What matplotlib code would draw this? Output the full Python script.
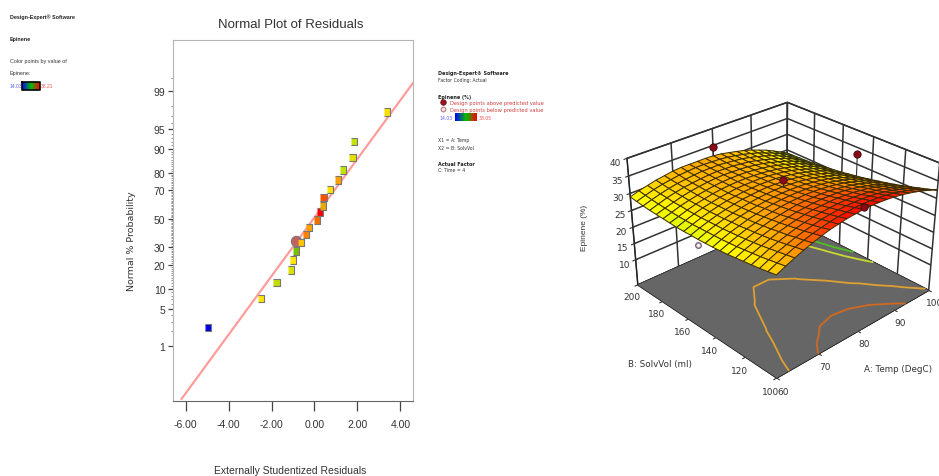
from statistics import NormalDist

import numpy as np
import matplotlib
matplotlib.use('Agg')
import matplotlib.pyplot as plt
from matplotlib.colors import LinearSegmentedColormap

W, H = 939, 477
NARROW = ['Liberation Sans', 'DejaVu Sans']

# normal plot
residuals = [-4.94, -2.47, -1.77, -1.08, -0.98, -0.84, -0.62, -0.39, -0.27, 0.13,
             0.27, 0.40, 0.42, 0.74, 1.10, 1.32, 1.77, 1.86, 3.36]
probability = [2.36, 7.27, 12.2, 17.5, 22.4, 27.8, 33.2, 38.7, 43.6, 48.9,
               54.7, 59.2, 65.1, 70.3, 76.1, 81.2, 86.8, 92.1, 97.4]
point_colors = ['#0000e0', '#ffe600', '#c4dc00', '#dce000', '#ffe800', '#78c000', '#ffc400',
                '#ff8400', '#ffa000', '#f07000', '#ff0000', '#e8a800', '#ff5000', '#ffe000',
                '#ffa000', '#c0e400', '#e4e000', '#c4e400', '#ffe000']
center_residual = -0.84
center_probability = 33.9
line_residual = [-6.19, 4.59]
line_probability = [0.05, 99.34]
prob_ticks = [1, 5, 10, 20, 30, 50, 70, 80, 90, 95, 99]
resid_ticks = [-6, -4, -2, 0, 2, 4]

# response surface, rows are SolvVol 100..200, columns are Temp 60..100
temp = [60, 62, 64, 66, 68, 70, 72, 74, 76, 78, 80, 82, 84, 86, 88, 90, 92, 94, 96, 98, 100]
solvvol = [100, 105, 110, 115, 120, 125, 130, 135, 140, 145, 150, 155, 160, 165, 170, 175, 180, 185, 190, 195, 200]
epinene = [
    [30.6, 31.7, 32.7, 33.6, 34.4, 35.1, 35.7, 36.1, 36.5, 36.7, 36.9, 36.9, 36.8, 36.6, 36.3, 35.9, 35.4, 34.8, 34.1, 33.3, 32.4],
    [30.2, 31.3, 32.3, 33.2, 33.9, 34.6, 35.1, 35.6, 35.9, 36.1, 36.3, 36.3, 36.2, 36.0, 35.7, 35.3, 34.7, 34.1, 33.4, 32.5, 31.6],
    [29.8, 30.9, 31.9, 32.7, 33.5, 34.1, 34.6, 35.1, 35.4, 35.6, 35.7, 35.7, 35.6, 35.4, 35.1, 34.6, 34.1, 33.4, 32.7, 31.8, 30.9],
    [29.5, 30.5, 31.5, 32.3, 33.0, 33.7, 34.2, 34.6, 34.9, 35.1, 35.2, 35.2, 35.0, 34.8, 34.5, 34.0, 33.5, 32.8, 32.0, 31.2, 30.2],
    [29.2, 30.2, 31.1, 31.9, 32.7, 33.3, 33.8, 34.2, 34.5, 34.6, 34.7, 34.7, 34.5, 34.3, 33.9, 33.5, 32.9, 32.2, 31.4, 30.5, 29.5],
    [28.9, 29.9, 30.8, 31.6, 32.3, 32.9, 33.4, 33.8, 34.0, 34.2, 34.3, 34.2, 34.1, 33.8, 33.4, 32.9, 32.3, 31.6, 30.8, 29.9, 28.9],
    [28.6, 29.6, 30.5, 31.3, 32.0, 32.6, 33.0, 33.4, 33.7, 33.8, 33.8, 33.8, 33.6, 33.3, 32.9, 32.4, 31.8, 31.1, 30.3, 29.4, 28.3],
    [28.4, 29.4, 30.3, 31.1, 31.7, 32.3, 32.7, 33.1, 33.3, 33.4, 33.5, 33.4, 33.2, 32.9, 32.5, 32.0, 31.3, 30.6, 29.8, 28.8, 27.8],
    [28.2, 29.2, 30.1, 30.8, 31.5, 32.0, 32.5, 32.8, 33.0, 33.1, 33.1, 33.0, 32.8, 32.5, 32.1, 31.5, 30.9, 30.2, 29.3, 28.4, 27.3],
    [28.1, 29.1, 29.9, 30.7, 31.3, 31.8, 32.2, 32.5, 32.7, 32.8, 32.8, 32.7, 32.5, 32.1, 31.7, 31.2, 30.5, 29.7, 28.9, 27.9, 26.8],
    [28.0, 29.0, 29.8, 30.5, 31.1, 31.6, 32.0, 32.3, 32.5, 32.6, 32.6, 32.4, 32.2, 31.8, 31.4, 30.8, 30.1, 29.4, 28.5, 27.5, 26.4],
    [28.0, 28.9, 29.7, 30.4, 31.0, 31.5, 31.9, 32.1, 32.3, 32.4, 32.3, 32.2, 31.9, 31.5, 31.1, 30.5, 29.8, 29.0, 28.1, 27.1, 26.0],
    [27.9, 28.8, 29.6, 30.3, 30.9, 31.4, 31.7, 32.0, 32.1, 32.2, 32.1, 32.0, 31.7, 31.3, 30.8, 30.2, 29.5, 28.7, 27.8, 26.7, 25.6],
    [27.9, 28.8, 29.6, 30.3, 30.8, 31.3, 31.6, 31.9, 32.0, 32.0, 32.0, 31.8, 31.5, 31.1, 30.6, 30.0, 29.2, 28.4, 27.5, 26.4, 25.3],
    [28.0, 28.8, 29.6, 30.3, 30.8, 31.3, 31.6, 31.8, 31.9, 31.9, 31.8, 31.6, 31.3, 30.9, 30.4, 29.8, 29.0, 28.2, 27.2, 26.2, 25.0],
    [28.1, 28.9, 29.7, 30.3, 30.8, 31.2, 31.6, 31.8, 31.9, 31.9, 31.8, 31.5, 31.2, 30.8, 30.2, 29.6, 28.8, 28.0, 27.0, 25.9, 24.7],
    [28.2, 29.0, 29.7, 30.4, 30.9, 31.3, 31.6, 31.8, 31.9, 31.8, 31.7, 31.5, 31.1, 30.7, 30.1, 29.4, 28.7, 27.8, 26.8, 25.7, 24.5],
    [28.3, 29.1, 29.9, 30.5, 31.0, 31.3, 31.6, 31.8, 31.9, 31.8, 31.7, 31.4, 31.1, 30.6, 30.0, 29.3, 28.6, 27.7, 26.7, 25.5, 24.3],
    [28.5, 29.3, 30.0, 30.6, 31.1, 31.4, 31.7, 31.9, 31.9, 31.9, 31.7, 31.4, 31.1, 30.6, 30.0, 29.3, 28.5, 27.6, 26.5, 25.4, 24.2],
    [28.7, 29.5, 30.2, 30.8, 31.2, 31.6, 31.8, 32.0, 32.0, 31.9, 31.8, 31.5, 31.1, 30.6, 30.0, 29.3, 28.4, 27.5, 26.5, 25.3, 24.1],
    [29.0, 29.8, 30.4, 31.0, 31.4, 31.8, 32.0, 32.0, 32.0, 32.0, 31.9, 31.6, 31.1, 30.6, 30.0, 29.3, 28.4, 27.5, 26.4, 25.2, 24.0],
]
contour_levels = [26.4, 27.7, 32.1, 35]
contour_colors = ['#50c020', '#c8d830', '#e0a030', '#d06a20']
design_above = [(80, 200, 34.5), (100, 150, 33.0), (80, 150, 34.5), (80, 100, 37.5)]
design_below = [(60, 150, 26.5)]

cmap = LinearSegmentedColormap.from_list('epinene', [(0, '#0000ff'), (0.44, '#20c020'), (0.6, '#ffff00'), (0.77, '#ffa000'), (0.94, '#ff1000'), (1, '#ff0000')])


def probit(p):
    return np.vectorize(lambda v: NormalDist().inv_cdf(min(max(v, 1e-6), 100 - 1e-6) / 100))(p)


def inv_probit(z):
    return np.vectorize(lambda v: NormalDist().cdf(v) * 100)(z)


def label(x, y, s, size=3.6, color='#333333', weight='normal', ha='left', family=None, rotation=0):
    fig.text(x / W, 1 - y / H, s, fontsize=size, color=color, fontweight=weight, ha=ha, va='center',
             family=family or ['DejaVu Sans'], rotation=rotation)


fig = plt.figure(figsize=(W / 100, H / 100), dpi=100)

ax = fig.add_axes([173 / W, 1 - 402 / H, 240 / W, 361 / H])
ax.set_yscale('function', functions=(probit, inv_probit))
ax.set_xlim(-6.59, 4.59)
ax.set_ylim(0.0434, 99.945)
ax.plot(line_residual, line_probability, color='#ff9c9c', lw=1.6, zorder=2)
ax.scatter([center_residual], [center_probability], s=55, color='#c46060', edgecolor='#777777', lw=0.8, zorder=3)
tall_box = [(-0.8, -1), (0.8, -1), (0.8, 1), (-0.8, 1)]
ax.scatter(residuals, probability, marker=tall_box, s=30, c=point_colors, edgecolor='#777777', lw=0.8, zorder=4)
ax.set_xticks(resid_ticks)
ax.set_xticklabels(['%.2f' % t for t in resid_ticks], family=NARROW, fontsize=7.5, color='#333333')
ax.set_yticks(prob_ticks)
ax.set_yticklabels([str(t) for t in prob_ticks], family=NARROW, fontsize=7.5, color='#333333')
ax.set_yticks(list(range(2, 99)) + [99.5], minor=True)
ax.tick_params(axis='x', length=7, width=0.9, color='#444444', pad=6)
ax.tick_params(axis='y', which='major', length=3.5, width=0.9, color='#444444', pad=2)
ax.tick_params(axis='y', which='minor', length=1.5, width=0.5, color='#666666')
for side in ['top', 'right', 'left']:
    ax.spines[side].set_color('#b4b4b4')
ax.spines['bottom'].set_color('#666666')

label(291, 25, 'Normal Plot of Residuals', size=9.5, ha='center', family=NARROW)
label(290, 471, 'Externally Studentized Residuals', size=7.5, ha='center', family=NARROW)
label(131, 241, 'Normal % Probability', size=6.8, ha='center', rotation=90)

# left header
label(10, 17, 'Design-Expert\u00ae Software', size=3.9, weight='bold', color='#222222', family=NARROW)
label(10, 39, 'Epinene', size=3.9, weight='bold', color='#222222', family=NARROW)
label(10, 62, 'Color points by value of', size=3.9, family=NARROW)
label(10, 73, 'Epinene:', size=3.9, family=NARROW)
label(10, 87, '14.03', size=3.6, color='#6060ff', family=NARROW)
label(41, 87, '38.21', size=3.6, color='#ff5050', family=NARROW)

# middle legend
label(438, 74, 'Design-Expert\u00ae Software', size=3.5, weight='bold', color='#222222')
label(438, 80.5, 'Factor Coding: Actual', size=3.3)
label(438, 97, 'Epinene (%)', size=3.5, weight='bold', color='#222222')
label(449.5, 103, 'Design points above predicted value', size=3.7, color='#d04040')
label(449.5, 110.5, 'Design points below predicted value', size=3.7, color='#d04040')
label(439, 119, '14.03', size=3.3, color='#6060ff')
label(479, 119, '38.05', size=3.3, color='#ff5050')
label(438, 141, 'X1 = A: Temp', size=3.3)
label(438, 148, 'X2 = B: SolvVol', size=3.3)
label(438, 164, 'Actual Factor', size=3.5, weight='bold', color='#222222')
label(438, 170, 'C: Time = 4', size=3.3)

ov = fig.add_axes([0, 0, 1, 1], zorder=5)
ov.set_xlim(0, W)
ov.set_ylim(H, 0)
ov.axis('off')
ov.scatter([443], [102.5], s=16, color='#a01020', edgecolor='#501010', lw=0.5)
ov.scatter([443], [110], s=12, color='#f4e0e0', edgecolor='#a06060', lw=0.6)
gradient = np.linspace(0, 1, 64).reshape(1, -1)
bar_cmap = LinearSegmentedColormap.from_list('bar', ['#0000ff', '#00c000', '#ff0000'])
ov.imshow(gradient, cmap=bar_cmap, extent=(455, 477, 122, 114), aspect='auto')
ov.imshow(gradient, cmap=bar_cmap, extent=(22, 40, 91, 83), aspect='auto')
ov.plot([22, 40, 40, 22, 22], [83, 83, 91, 91, 83], color='black', lw=1.2)
ov.set_xlim(0, W)
ov.set_ylim(H, 0)

# response surface
ax3 = fig.add_axes([495 / W, 1 - 515 / H, 560 / W, 560 / H], projection='3d', computed_zorder=False)
ax3.patch.set_alpha(0)
ax3.view_init(elev=29, azim=-133)
ax3.set_proj_type('persp', focal_length=0.32)
ax3.set_box_aspect((1, 1, 0.68), zoom=0.58)
ax3.set_xlim(60, 100)
ax3.set_ylim(100, 200)
ax3.set_zlim(2, 40)
X, Y = np.meshgrid(temp, solvvol)
Z = np.array(epinene)
ax3.plot_surface(np.array([[60, 100], [60, 100]]), np.array([[100, 100], [200, 200]]), np.full((2, 2), 2.0),
                 color='#666666', shade=False, zorder=1)
# every other grid point, the rounded table makes the contours wobble otherwise
ax3.contour(X[::2, ::2], Y[::2, ::2], Z[::2, ::2], levels=contour_levels, colors=contour_colors, offset=2, zdir='z',
            linewidths=1.3, zorder=2)
for a, b, z in design_below:
    ax3.scatter([a], [b], [z], s=16, color='#eeeeee', edgecolor='#806070', lw=1, depthshade=False, zorder=3)
ax3.plot_surface(X, Y, Z, rstride=1, cstride=1, facecolors=cmap((Z - 14) / 24), edgecolor='#3a2a00', lw=0.7,
                 shade=False, zorder=4)
for a, b, z in design_above:
    surface_z = Z[solvvol.index(b), temp.index(a)]
    ax3.plot([a, a], [b, b], [surface_z, z], color='#333333', lw=0.8, zorder=5)
    ax3.scatter([a], [b], [z], s=28, color='#8a0a18', edgecolor='#400808', lw=0.6, depthshade=False, zorder=6)
ax3.set_xticks([60, 70, 80, 90, 100])
ax3.set_yticks([100, 120, 140, 160, 180, 200])
ax3.set_zticks([10, 15, 20, 25, 30, 35, 40])
ax3.tick_params(labelsize=6.5, colors='#333333', pad=0)
for axis in (ax3.xaxis, ax3.yaxis, ax3.zaxis):
    axis.set_pane_color((1, 1, 1, 1))
    axis.pane.set_edgecolor('#222222')
    axis.line.set_color('#222222')
    axis._axinfo['grid'].update(color='#333333', linewidth=1.1)

label(584, 228, 'Epinene (%)', size=6, ha='center', family=NARROW, rotation=90)
label(660, 365, 'B: SolvVol (ml)', size=6.3, ha='center')
label(898, 370, 'A: Temp (DegC)', size=6.3, ha='center')

fig.savefig('out.png', dpi=100)
